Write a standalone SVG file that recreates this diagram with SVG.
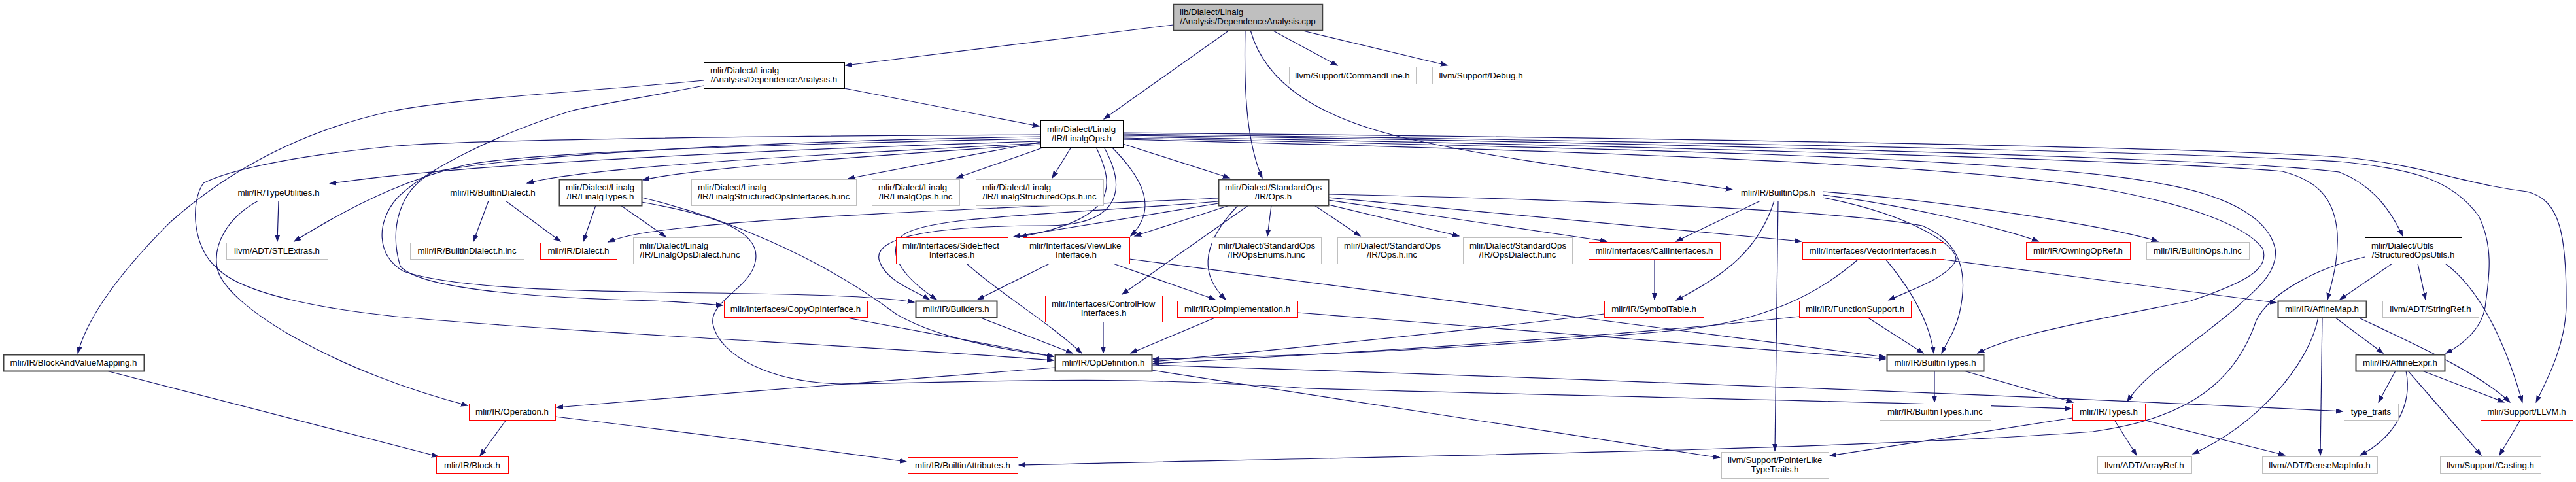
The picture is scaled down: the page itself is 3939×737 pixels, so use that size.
<svg xmlns="http://www.w3.org/2000/svg" width="3939" height="737" viewBox="0 0 3939 737">
<style>
.n rect{fill:#fff;stroke:#000;stroke-width:1}
.g rect{stroke:#bfbfbf}
.r rect{stroke:#ff0000}
.d rect{stroke:#404040;stroke-width:2}
.root rect{fill:#bfbfbf;stroke:#404040;stroke-width:1.5}
text{font-family:"Liberation Sans",Arial,sans-serif;font-size:13.33px;fill:#000}
.c{text-anchor:middle}
#edges path{fill:none;stroke:#191970;stroke-width:1.2;marker-end:url(#a)}
</style>
<defs>
<marker id="a" markerWidth="12" markerHeight="9" refX="10" refY="4" orient="auto" markerUnits="userSpaceOnUse"><path d="M0,0.5 L10,4 L0,7.5 z" fill="#191970" stroke="#191970" stroke-width="1"/></marker>
</defs>
<rect width="3939" height="737" fill="#fff"/>
<g id="edges">
<path d="M1794,38 L1293,100"/>
<path d="M1880,46 L1688,182"/>
<path d="M1904,46 C1902,130 1905,215 1930,272"/>
<path d="M1912,46 C1935,130 2020,180 2144,210 C2320,250 2520,270 2649,290"/>
<path d="M1945,46 L2045,100"/>
<path d="M1988,46 L2213,100"/>
<path d="M1291,135 L1589,193"/>
<path d="M1076,123 C900,140 700,150 599,170 C460,200 350,260 260,340 C190,410 135,480 119,540"/>
<path d="M1076,131 C980,150 910,160 872,170 C760,205 650,260 607,303 C575,340 575,390 617,415 C720,450 1000,445 1200,450 C1300,452 1360,456 1398,462"/>
<path d="M1591,216 C1200,228 700,250 504,281"/>
<path d="M1591,212 C1200,220 800,232 709,253 C640,270 560,300 450,369"/>
<path d="M1591,219 C1250,236 900,255 806,280"/>
<path d="M1591,221 C1300,240 1060,258 983,275"/>
<path d="M1591,206 C1200,208 750,212 607,223 C480,235 360,255 311,280 C290,310 295,380 332,410 C370,450 500,475 638,487 C900,510 1350,530 1611,551"/>
<path d="M1591,209 C1200,215 800,235 663,263 C610,290 595,350 612,407 C640,440 800,455 1000,460 C1050,462 1080,465 1105,467"/>
<path d="M1591,217 L1297,273"/>
<path d="M1597,225 L1463,272"/>
<path d="M1638,225 L1609,272"/>
<path d="M1717,220 L1880,272"/>
<path d="M1676,225 C1705,285 1710,335 1560,362"/>
<path d="M1700,225 C1750,275 1770,320 1729,361"/>
<path d="M1688,225 C1730,300 1700,345 1600,345 C1440,345 1330,360 1345,400 C1355,430 1400,445 1421,458"/>
<path d="M1717,203 C2300,208 3300,222 3577,240 C3700,250 3760,280 3864,293 C3915,305 3925,360 3924,470 C3922,530 3895,580 3878,615"/>
<path d="M1717,205 C2300,212 3300,230 3577,247 C3690,258 3750,275 3790,330 C3815,380 3805,430 3800,470 C3795,500 3770,525 3740,540"/>
<path d="M1717,207 C2400,215 3400,240 3577,263 C3620,280 3650,310 3674,361"/>
<path d="M1717,209 C2400,220 3300,245 3490,262 C3540,275 3570,300 3574,357 C3576,400 3566,430 3559,458"/>
<path d="M1717,211 C2400,225 3100,240 3300,280 C3420,300 3470,340 3479,380 C3485,420 3440,450 3420,470 C3350,530 3280,570 3253,614"/>
<path d="M1717,213 C2400,230 3000,250 3222,290 C3330,310 3430,340 3460,380 C3470,410 3440,430 3350,460 C3200,490 3080,510 3024,540"/>
<path d="M1863,303 C1600,315 1200,330 1050,348 C990,354 955,360 930,370"/>
<path d="M1863,308 C1600,330 1420,330 1380,360 C1350,390 1390,430 1432,458"/>
<path d="M1863,311 L1550,362"/>
<path d="M1880,314 L1735,361"/>
<path d="M1909,314 L1716,450"/>
<path d="M1893,314 C1830,380 1840,425 1874,458"/>
<path d="M1944,314 L1938,361"/>
<path d="M2010,314 L2080,361"/>
<path d="M2031,313 L2231,361"/>
<path d="M2031,306 L2457,369"/>
<path d="M2031,302 L2754,369"/>
<path d="M2031,297 C2400,305 2800,320 2939,345 C3000,370 3010,420 2996,480 C2990,505 2978,522 2969,540"/>
<path d="M2692,307 L2563,369"/>
<path d="M2713,307 C2690,380 2640,420 2563,459"/>
<path d="M2719,307 L2714,689"/>
<path d="M2787,302 C2930,330 3000,380 2990,400 C2975,425 2930,440 2888,459"/>
<path d="M2787,298 C2900,312 3050,345 3117,369"/>
<path d="M2787,293 C2950,305 3200,340 3300,369"/>
<path d="M2530,396 L2530,458"/>
<path d="M2842,396 C2780,450 2700,490 2574,504 C2300,530 2000,545 1763,549"/>
<path d="M2883,396 C2920,440 2950,490 2957,540"/>
<path d="M2965,396 L3481,463"/>
<path d="M2453,480 C2250,505 2000,530 1763,553"/>
<path d="M2751,484 C2500,512 2100,538 1763,556"/>
<path d="M2855,485 L2941,540"/>
<path d="M1605,403 L1495,458"/>
<path d="M1702,403 L1858,458"/>
<path d="M1727,396 L2883,546"/>
<path d="M1478,403 C1530,450 1600,490 1654,540"/>
<path d="M1984,478 L2883,549"/>
<path d="M1860,485 L1729,540"/>
<path d="M1687,492 L1687,540"/>
<path d="M1290,485 L1611,545"/>
<path d="M1497,485 L1640,540"/>
<path d="M1613,562 C1400,578 1100,602 851,623"/>
<path d="M1761,558 C2200,572 3000,600 3582,629"/>
<path d="M1761,566 L2630,700"/>
<path d="M981,309 C1100,330 1165,355 1155,400 C1148,440 1085,460 1090,495 C1100,545 1180,585 1287,587 C1500,585 1700,572 2000,594 C2500,608 2900,614 3167,625"/>
<path d="M981,302 C1100,330 1250,390 1370,480 C1420,510 1500,530 1611,545"/>
<path d="M911,314 L892,369"/>
<path d="M949,314 L1018,362"/>
<path d="M747,307 L724,369"/>
<path d="M773,307 L857,369"/>
<path d="M426,307 L424,369"/>
<path d="M395,307 C352,330 325,370 332,410 C345,470 520,570 715,620"/>
<path d="M163,567 L670,698"/>
<path d="M774,642 L734,697"/>
<path d="M849,637 C1000,655 1200,680 1386,706"/>
<path d="M3616,393 C3540,410 3470,450 3450,490 C3420,580 3350,640 3200,660 C2800,690 2000,700 1558,711"/>
<path d="M3658,403 L3578,458"/>
<path d="M3697,403 L3709,458"/>
<path d="M3739,403 C3790,440 3830,520 3857,615"/>
<path d="M3545,485 C3530,560 3450,650 3353,694"/>
<path d="M3551,485 L3548,696"/>
<path d="M3570,485 L3644,540"/>
<path d="M3605,485 C3700,530 3790,570 3838,615"/>
<path d="M3663,567 L3637,615"/>
<path d="M3679,567 C3690,620 3660,670 3609,696"/>
<path d="M3682,567 L3794,696"/>
<path d="M3704,567 L3829,615"/>
<path d="M3854,642 L3822,696"/>
<path d="M3233,642 L3267,696"/>
<path d="M3277,642 L3494,696"/>
<path d="M3169,639 C3000,665 2900,680 2798,697"/>
<path d="M2958,567 L2958,615"/>
<path d="M3003,567 L3170,615"/>
</g>
<g id="root" class="n root"><rect x="1794.5" y="6.5" width="228" height="40"/><text x="1804" y="23">lib/Dialect/Linalg</text><text class="c" x="1908" y="37">/Analysis/DependenceAnalysis.cpp</text></g>
<g id="depanalysis_h" class="n"><rect x="1076.5" y="95.5" width="215" height="40"/><text x="1086" y="112">mlir/Dialect/Linalg</text><text class="c" x="1183.5" y="126">/Analysis/DependenceAnalysis.h</text></g>
<g id="commandline" class="n g"><rect x="1971.5" y="102.5" width="194" height="26"/><text class="c" x="2068" y="119.5">llvm/Support/CommandLine.h</text></g>
<g id="debug" class="n g"><rect x="2190.5" y="102.5" width="149" height="26"/><text class="c" x="2264.5" y="119.5">llvm/Support/Debug.h</text></g>
<g id="linalgops" class="n"><rect x="1591.5" y="184.5" width="126" height="41"/><text x="1601" y="201.5">mlir/Dialect/Linalg</text><text class="c" x="1654" y="216">/IR/LinalgOps.h</text></g>
<g id="typeutilities" class="n"><rect x="351.5" y="281.5" width="150" height="26"/><text class="c" x="426" y="298.5">mlir/IR/TypeUtilities.h</text></g>
<g id="builtindialect" class="n"><rect x="677.5" y="281.5" width="153" height="26"/><text class="c" x="753.5" y="298.5">mlir/IR/BuiltinDialect.h</text></g>
<g id="linalgtypes" class="n d"><rect x="855.5" y="274.5" width="126" height="40"/><text x="865" y="291">mlir/Dialect/Linalg</text><text class="c" x="918" y="305">/IR/LinalgTypes.h</text></g>
<g id="lsoi_inc" class="n g"><rect x="1057.5" y="274.5" width="252" height="40"/><text x="1067" y="291">mlir/Dialect/Linalg</text><text class="c" x="1183" y="305">/IR/LinalgStructuredOpsInterfaces.h.inc</text></g>
<g id="linalgops_inc" class="n g"><rect x="1333.5" y="274.5" width="134" height="40"/><text x="1343" y="291">mlir/Dialect/Linalg</text><text class="c" x="1400" y="305">/IR/LinalgOps.h.inc</text></g>
<g id="lso_inc" class="n g"><rect x="1492.5" y="274.5" width="195" height="40"/><text x="1502" y="291">mlir/Dialect/Linalg</text><text class="c" x="1589.5" y="305">/IR/LinalgStructuredOps.h.inc</text></g>
<g id="stdops" class="n d"><rect x="1863.5" y="274.5" width="168" height="40"/><text x="1873" y="291">mlir/Dialect/StandardOps</text><text class="c" x="1947" y="305">/IR/Ops.h</text></g>
<g id="builtinops" class="n"><rect x="2651.5" y="281.5" width="136" height="26"/><text class="c" x="2719" y="298.5">mlir/IR/BuiltinOps.h</text></g>
<g id="structuredopsutils" class="n"><rect x="3616.5" y="363.5" width="148" height="40"/><text x="3626" y="380">mlir/Dialect/Utils</text><text class="c" x="3690" y="394">/StructuredOpsUtils.h</text></g>
<g id="stlextras" class="n g"><rect x="346.5" y="371.5" width="155" height="25"/><text class="c" x="423.5" y="388">llvm/ADT/STLExtras.h</text></g>
<g id="builtindialect_inc" class="n g"><rect x="627.5" y="371.5" width="174" height="25"/><text class="c" x="714" y="388">mlir/IR/BuiltinDialect.h.inc</text></g>
<g id="dialect" class="n r"><rect x="826.5" y="371.5" width="117" height="25"/><text class="c" x="884.5" y="388">mlir/IR/Dialect.h</text></g>
<g id="linalgopsdialect_inc" class="n g"><rect x="968.5" y="363.5" width="174" height="40"/><text x="978" y="380">mlir/Dialect/Linalg</text><text class="c" x="1055" y="394">/IR/LinalgOpsDialect.h.inc</text></g>
<g id="sideeffect" class="n r"><rect x="1370.5" y="363.5" width="171" height="40"/><text x="1380" y="380">mlir/Interfaces/SideEffect</text><text class="c" x="1455.5" y="394">Interfaces.h</text></g>
<g id="viewlike" class="n r"><rect x="1564.5" y="363.5" width="163" height="40"/><text x="1574" y="380">mlir/Interfaces/ViewLike</text><text class="c" x="1645.5" y="394">Interface.h</text></g>
<g id="opsenums_inc" class="n g"><rect x="1853.5" y="363.5" width="167" height="40"/><text x="1863" y="380">mlir/Dialect/StandardOps</text><text class="c" x="1936.5" y="394">/IR/OpsEnums.h.inc</text></g>
<g id="ops_inc" class="n g"><rect x="2045.5" y="363.5" width="167" height="40"/><text x="2055" y="380">mlir/Dialect/StandardOps</text><text class="c" x="2128.5" y="394">/IR/Ops.h.inc</text></g>
<g id="opsdialect_inc" class="n g"><rect x="2237.5" y="363.5" width="167" height="40"/><text x="2247" y="380">mlir/Dialect/StandardOps</text><text class="c" x="2320.5" y="394">/IR/OpsDialect.h.inc</text></g>
<g id="callinterfaces" class="n r"><rect x="2429.5" y="370.5" width="201" height="26"/><text class="c" x="2529.5" y="387.5">mlir/Interfaces/CallInterfaces.h</text></g>
<g id="vectorinterfaces" class="n r"><rect x="2756.5" y="370.5" width="216" height="26"/><text class="c" x="2864" y="387.5">mlir/Interfaces/VectorInterfaces.h</text></g>
<g id="owningopref" class="n r"><rect x="3098.5" y="370.5" width="159" height="26"/><text class="c" x="3177.5" y="387.5">mlir/IR/OwningOpRef.h</text></g>
<g id="builtinops_inc" class="n g"><rect x="3282.5" y="370.5" width="157" height="26"/><text class="c" x="3360.5" y="387.5">mlir/IR/BuiltinOps.h.inc</text></g>
<g id="copyopinterface" class="n r"><rect x="1107.5" y="460.5" width="219" height="25"/><text class="c" x="1216.5" y="477">mlir/Interfaces/CopyOpInterface.h</text></g>
<g id="builders" class="n d"><rect x="1400.5" y="460.5" width="124" height="25"/><text class="c" x="1462" y="477">mlir/IR/Builders.h</text></g>
<g id="controlflow" class="n r"><rect x="1598.5" y="452.5" width="179" height="40"/><text x="1608" y="469">mlir/Interfaces/ControlFlow</text><text class="c" x="1687.5" y="483">Interfaces.h</text></g>
<g id="opimplementation" class="n r"><rect x="1800.5" y="460.5" width="184" height="25"/><text class="c" x="1892" y="477">mlir/IR/OpImplementation.h</text></g>
<g id="symboltable" class="n r"><rect x="2453.5" y="460.5" width="152" height="25"/><text class="c" x="2529" y="477">mlir/IR/SymbolTable.h</text></g>
<g id="functionsupport" class="n r"><rect x="2751.5" y="460.5" width="171" height="25"/><text class="c" x="2836.5" y="477">mlir/IR/FunctionSupport.h</text></g>
<g id="affinemap" class="n d"><rect x="3483.5" y="460.5" width="135" height="25"/><text class="c" x="3550.5" y="477">mlir/IR/AffineMap.h</text></g>
<g id="stringref" class="n g"><rect x="3643.5" y="460.5" width="147" height="25"/><text class="c" x="3716.5" y="477">llvm/ADT/StringRef.h</text></g>
<g id="blockandvaluemapping" class="n d"><rect x="5.5" y="542.5" width="215" height="25"/><text class="c" x="112.5" y="559">mlir/IR/BlockAndValueMapping.h</text></g>
<g id="opdefinition" class="n d"><rect x="1613.5" y="542.5" width="148" height="25"/><text class="c" x="1687" y="559">mlir/IR/OpDefinition.h</text></g>
<g id="builtintypes" class="n d"><rect x="2885.5" y="542.5" width="148" height="25"/><text class="c" x="2959" y="559">mlir/IR/BuiltinTypes.h</text></g>
<g id="affineexpr" class="n d"><rect x="3602.5" y="542.5" width="136" height="25"/><text class="c" x="3670" y="559">mlir/IR/AffineExpr.h</text></g>
<g id="operation" class="n r"><rect x="717.5" y="617.5" width="132" height="25"/><text class="c" x="783" y="634">mlir/IR/Operation.h</text></g>
<g id="builtintypes_inc" class="n g"><rect x="2874.5" y="617.5" width="170" height="25"/><text class="c" x="2959" y="634">mlir/IR/BuiltinTypes.h.inc</text></g>
<g id="types" class="n r"><rect x="3169.5" y="617.5" width="111" height="25"/><text class="c" x="3224.5" y="634">mlir/IR/Types.h</text></g>
<g id="type_traits" class="n g"><rect x="3584.5" y="617.5" width="83" height="25"/><text class="c" x="3625.5" y="634">type_traits</text></g>
<g id="llvm_h" class="n r"><rect x="3793.5" y="617.5" width="141" height="25"/><text class="c" x="3863.5" y="634">mlir/Support/LLVM.h</text></g>
<g id="block" class="n r"><rect x="667.5" y="698.5" width="110" height="26"/><text class="c" x="722" y="715.5">mlir/IR/Block.h</text></g>
<g id="builtinattributes" class="n r"><rect x="1388.5" y="699.5" width="168" height="25"/><text class="c" x="1472" y="716">mlir/IR/BuiltinAttributes.h</text></g>
<g id="pointerliketypetraits" class="n g"><rect x="2632.5" y="691.5" width="164" height="40"/><text x="2642" y="708">llvm/Support/PointerLike</text><text class="c" x="2714" y="722">TypeTraits.h</text></g>
<g id="arrayref" class="n g"><rect x="3207.5" y="698.5" width="144" height="26"/><text class="c" x="3279" y="715.5">llvm/ADT/ArrayRef.h</text></g>
<g id="densemapinfo" class="n g"><rect x="3459.5" y="698.5" width="176" height="26"/><text class="c" x="3547" y="715.5">llvm/ADT/DenseMapInfo.h</text></g>
<g id="casting" class="n g"><rect x="3731.5" y="698.5" width="154" height="26"/><text class="c" x="3808" y="715.5">llvm/Support/Casting.h</text></g>
</svg>
